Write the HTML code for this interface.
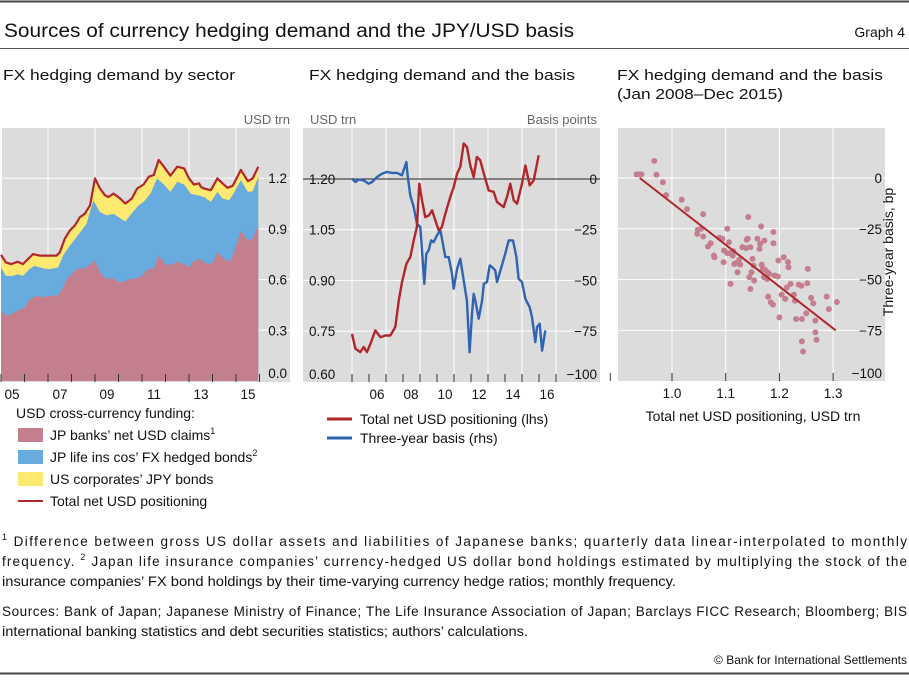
<!DOCTYPE html>
<html><head><meta charset="utf-8"><style>
body{margin:0;background:#fff;}
svg text{font-family:"Liberation Sans",sans-serif;}
</style></head><body>
<svg id="s" width="909" height="675" viewBox="0 0 909 675" xmlns="http://www.w3.org/2000/svg">
<line x1="0" y1="1.5" x2="909" y2="1.5" stroke="#444" stroke-width="2"/>
<text x="4" y="37" font-size="19" fill="#111" textLength="570" lengthAdjust="spacingAndGlyphs">Sources of currency hedging demand and the JPY/USD basis</text>
<text x="905" y="37" font-size="14" text-anchor="end" fill="#111">Graph 4</text>
<line x1="0" y1="48.5" x2="909" y2="48.5" stroke="#555" stroke-width="1"/>
<text x="3" y="80" font-size="15" fill="#111" textLength="232" lengthAdjust="spacingAndGlyphs">FX hedging demand by sector</text>
<text x="309" y="80" font-size="15" fill="#111" textLength="266" lengthAdjust="spacingAndGlyphs">FX hedging demand and the basis</text>
<text x="617" y="80" font-size="15" fill="#111" textLength="266" lengthAdjust="spacingAndGlyphs">FX hedging demand and the basis</text>
<text x="617" y="99" font-size="15" fill="#111" textLength="166" lengthAdjust="spacingAndGlyphs">(Jan 2008–Dec 2015)</text>
<text x="290" y="124" font-size="13" fill="#666" text-anchor="end">USD trn</text>
<text x="310" y="124" font-size="13" fill="#666">USD trn</text>
<text x="597" y="124" font-size="13" fill="#666" text-anchor="end">Basis points</text>
<g id="p1"></g>
<g id="p2"></g>
<g id="p3"></g>
<text x="893" y="252" font-size="14" fill="#111" text-anchor="middle" transform="rotate(-90 893 252)">Three-year basis, bp</text>
<text x="753" y="421" font-size="14" fill="#111" text-anchor="middle">Total net USD positioning, USD trn</text>
<g>
<text x="16" y="418" font-size="14" fill="#111">USD cross-currency funding:</text>
<rect x="18" y="428" width="25" height="14" fill="#c47f8e"/>
<text x="50" y="440" font-size="14" fill="#111">JP banks’ net USD claims<tspan font-size="9" dy="-6">1</tspan></text>
<rect x="18" y="450" width="25" height="14" fill="#67abdf"/>
<text x="50" y="462" font-size="14" fill="#111">JP life ins cos’ FX hedged bonds<tspan font-size="9" dy="-6">2</tspan></text>
<rect x="18" y="472" width="25" height="14" fill="#fde96f"/>
<text x="50" y="484" font-size="14" fill="#111">US corporates’ JPY bonds</text>
<line x1="18" y1="501" x2="43" y2="501" stroke="#b0262b" stroke-width="2"/>
<text x="50" y="506" font-size="14" fill="#111">Total net USD positioning</text>
</g>
<g>
<line x1="327" y1="419" x2="352" y2="419" stroke="#b0262b" stroke-width="3"/>
<text x="360" y="424" font-size="14" fill="#111">Total net USD positioning (lhs)</text>
<line x1="327" y1="438" x2="352" y2="438" stroke="#2f64b0" stroke-width="3"/>
<text x="360" y="443" font-size="14" fill="#111">Three-year basis (rhs)</text>
</g>
<g font-size="13.5" fill="#111">
<text x="2" y="546" textLength="905" lengthAdjust="spacing"><tspan font-size="9" dy="-6">1</tspan><tspan dy="6"> Difference between gross US dollar assets and liabilities of Japanese banks; quarterly data linear-interpolated to monthly</tspan></text>
<text x="2" y="566" textLength="905" lengthAdjust="spacing">frequency.  <tspan font-size="9" dy="-6">2</tspan><tspan dy="6"> Japan life insurance companies’ currency-hedged US dollar bond holdings estimated by multiplying the stock of the</tspan></text>
<text x="2" y="586" textLength="674" lengthAdjust="spacingAndGlyphs">insurance companies’ FX bond holdings by their time-varying currency hedge ratios; monthly frequency.</text>
<text x="2" y="616" textLength="905" lengthAdjust="spacing">Sources: Bank of Japan; Japanese Ministry of Finance; The Life Insurance Association of Japan; Barclays FICC Research; Bloomberg; BIS</text>
<text x="2" y="636" textLength="526" lengthAdjust="spacingAndGlyphs">international banking statistics and debt securities statistics; authors’ calculations.</text>
</g>
<text x="907" y="664" font-size="12" fill="#111" text-anchor="end">© Bank for International Settlements</text>
<line x1="0" y1="673.5" x2="909" y2="673.5" stroke="#444" stroke-width="2"/>
</svg>
<script>
// Panel 1 data
const p1BanksDates=[2005.00,2005.21,2005.43,2005.79,2006.00,2006.21,2006.50,2006.79,2007.07,2007.43,2007.57,2007.79,2008.07,2008.29,2008.57,2009.00,2009.21,2009.50,2009.71,2010.00,2010.21,2010.43,2010.64,2011.00,2011.21,2011.50,2011.71,2012.00,2012.21,2012.50,2012.79,2013.00,2013.21,2013.43,2013.57,2013.79,2014.00,2014.21,2014.43,2014.64,2014.79,2015.00,2015.21,2015.50,2015.71,2015.95];
const p1Banks=[0.414,0.388,0.394,0.423,0.433,0.483,0.503,0.497,0.503,0.507,0.533,0.602,0.642,0.666,0.666,0.712,0.642,0.602,0.612,0.586,0.586,0.602,0.602,0.622,0.658,0.666,0.742,0.692,0.686,0.706,0.692,0.672,0.712,0.722,0.712,0.692,0.698,0.761,0.732,0.712,0.712,0.801,0.891,0.831,0.845,0.920];
const p1LifeCumDates=[2005.00,2005.21,2005.50,2005.71,2005.93,2006.21,2006.43,2006.79,2007.07,2007.43,2007.64,2007.93,2008.21,2008.64,2008.93,2009.21,2009.50,2009.79,2010.00,2010.29,2010.64,2010.86,2011.07,2011.36,2011.64,2011.93,2012.21,2012.50,2012.79,2013.07,2013.36,2013.64,2013.93,2014.21,2014.43,2014.71,2014.93,2015.21,2015.50,2015.71,2015.95];
const p1LifeCum=[0.672,0.622,0.622,0.632,0.622,0.662,0.682,0.666,0.662,0.672,0.742,0.801,0.851,0.930,1.070,1.000,0.980,0.990,0.970,0.944,1.004,1.040,1.060,1.109,1.199,1.163,1.119,1.179,1.163,1.109,1.099,1.089,1.060,1.119,1.080,1.070,1.119,1.189,1.119,1.123,1.209];
const p1TotalDates=[2005.00,2005.21,2005.43,2005.71,2005.93,2006.36,2006.64,2007.07,2007.36,2007.50,2007.71,2007.93,2008.14,2008.36,2008.57,2008.79,2009.00,2009.21,2009.43,2009.57,2009.79,2010.07,2010.29,2010.57,2010.79,2011.07,2011.29,2011.50,2011.71,2011.93,2012.21,2012.50,2012.79,2013.00,2013.21,2013.43,2013.50,2013.64,2013.93,2014.21,2014.43,2014.64,2014.86,2015.21,2015.50,2015.71,2015.95];
const p1Total=[0.746,0.702,0.692,0.706,0.692,0.751,0.742,0.742,0.742,0.761,0.841,0.891,0.920,0.970,0.990,1.040,1.199,1.139,1.099,1.089,1.109,1.080,1.050,1.080,1.139,1.163,1.209,1.219,1.308,1.268,1.215,1.268,1.258,1.199,1.163,1.169,1.149,1.139,1.129,1.199,1.169,1.143,1.155,1.249,1.183,1.199,1.268];
const p1YTicks=["0.0","0.3","0.6","0.9","1.2"];
const p1YTickVals=[0,0.3,0.6,0.9,1.2];
const p1XLabels=["05","07","09","11","13","15"];
// Panel 2 data
const p2PosDates=[2005.00,2005.20,2005.49,2005.69,2005.88,2006.12,2006.37,2006.67,2006.96,2007.25,2007.55,2007.75,2007.94,2008.20,2008.43,2008.63,2008.82,2008.96,2009.12,2009.31,2009.51,2009.71,2009.90,2010.10,2010.29,2010.49,2010.78,2010.98,2011.18,2011.37,2011.57,2011.76,2011.96,2012.16,2012.35,2012.55,2012.75,2013.04,2013.33,2013.53,2013.92,2014.12,2014.31,2014.51,2014.71,2015.00,2015.20,2015.45,2015.69,2015.98];
const p2Pos=[0.742,0.698,0.688,0.703,0.688,0.717,0.752,0.732,0.737,0.737,0.762,0.841,0.895,0.949,0.969,1.018,1.058,1.186,1.137,1.087,1.092,1.107,1.078,1.048,1.058,1.097,1.147,1.176,1.216,1.236,1.305,1.295,1.240,1.206,1.265,1.255,1.216,1.166,1.162,1.132,1.117,1.147,1.186,1.137,1.127,1.186,1.240,1.181,1.196,1.270];
const p2BasisDates=[2005.00,2005.20,2005.39,2005.69,2005.98,2006.18,2006.47,2006.76,2007.06,2007.35,2007.65,2007.94,2008.20,2008.27,2008.43,2008.63,2008.82,2009.02,2009.12,2009.25,2009.37,2009.51,2009.65,2009.80,2010.00,2010.20,2010.35,2010.49,2010.69,2010.88,2010.98,2011.18,2011.37,2011.57,2011.76,2011.92,2012.06,2012.16,2012.25,2012.45,2012.65,2012.75,2012.94,2013.10,2013.24,2013.43,2013.53,2013.73,2014.02,2014.22,2014.47,2014.67,2014.80,2015.00,2015.20,2015.45,2015.59,2015.78,2015.88,2016.04,2016.18,2016.37];
const p2Basis=[0.2,-1.5,-0.3,-0.7,-2.3,-1.5,1.0,2.6,3.5,3.0,3.0,1.8,8.4,1.8,-8.1,-13.8,-22.0,-23.7,-35.2,-51.7,-36.8,-35.2,-30.3,-31.1,-27.8,-25.3,-31.9,-38.5,-38.5,-46.7,-54.1,-44.3,-39.3,-50.0,-59.9,-85.4,-66.5,-56.6,-59.9,-68.9,-59.9,-51.7,-50.8,-42.6,-43.4,-45.1,-50.8,-45.1,-36.8,-30.3,-30.3,-38.5,-49.2,-50.8,-59.1,-63.2,-68.1,-80.4,-73.0,-71.4,-84.6,-74.7];
const p2LeftTicks=["0.60","0.75","0.90","1.05","1.20"];
const p2LeftVals=[0.60,0.75,0.90,1.05,1.20];
const p2RightTicks=["−100","−75","−50","−25","0"];
const p2RightVals=[-100,-75,-50,-25,0];
const p2XLabels=["06","08","10","12","14","16"];
// Panel 3 data
const p3X=[0.967,0.934,0.939,0.943,0.971,0.983,0.989,1.018,1.028,1.058,1.048,1.047,1.054,1.058,1.067,1.072,1.078,1.079,1.096,1.088,1.094,1.103,1.106,1.097,1.103,1.108,1.114,1.109,1.113,1.116,1.119,1.122,1.125,1.127,1.131,1.138,1.139,1.142,1.141,1.146,1.144,1.146,1.148,1.150,1.152,1.153,1.159,1.163,1.164,1.166,1.167,1.169,1.171,1.172,1.173,1.177,1.178,1.179,1.181,1.184,1.188,1.189,1.191,1.189,1.197,1.198,1.204,1.208,1.211,1.216,1.217,1.214,1.221,1.227,1.229,1.231,1.236,1.241,1.242,1.242,1.244,1.250,1.253,1.252,1.259,1.263,1.267,1.267,1.269,1.288,1.292,1.307,1.200];
const p3Y=[8.4,1.8,1.8,1.8,1.6,-2.1,-8.4,-10.7,-15.3,-17.8,-25.5,-27.5,-25.0,-28.8,-33.7,-32.1,-38.2,-39.0,-41.4,-29.4,-29.9,-25.0,-31.6,-35.7,-37.0,-37.0,-36.0,-52.1,-38.2,-42.3,-41.9,-46.4,-40.3,-42.6,-34.0,-34.5,-30.4,-19.2,-29.9,-34.0,-48.8,-54.6,-46.4,-39.8,-43.1,-50.5,-29.9,-34.9,-32.4,-23.8,-42.6,-44.7,-48.8,-30.8,-45.2,-49.7,-46.4,-58.4,-47.2,-61.2,-62.3,-26.6,-48.0,-32.1,-48.5,-40.6,-57.4,-39.0,-59.5,-41.4,-43.9,-53.8,-52.1,-57.4,-60.4,-69.4,-52.5,-53.0,-69.4,-80.4,-85.4,-66.6,-44.7,-51.8,-59.0,-61.7,-70.2,-76.0,-79.6,-58.4,-64.5,-61.0,-68.6];
const p3FitX=[0.94,1.305];
const p3FitY=[0,-75];
const p3XTicks=["1.0","1.1","1.2","1.3"];
const p3XTickVals=[1.0,1.1,1.2,1.3];
const p3YTicks=["−100","−75","−50","−25","0"];
const p3YTickVals=[-100,-75,-50,-25,0];

const NS="http://www.w3.org/2000/svg";
function mk(parent,tag,attrs){const e=document.createElementNS(NS,tag);for(const k in attrs)e.setAttribute(k,attrs[k]);parent.appendChild(e);return e;}
function pts(xs,ys,fx,fy){return xs.map((x,i)=>fx(x).toFixed(1)+","+fy(ys[i]).toFixed(1)).join(" ");}

// ---- Panel 1
(function(){
const g=document.getElementById('p1');
const x=t=>1+(t-2005)*23.5, y=v=>381-v/0.3*50.7;
let e=mk(g,'rect',{x:2,y:128,width:288,height:254,fill:'#dcdcdc'});


p1YTickVals.forEach((v,i)=>{
 if(v>0){e=mk(g,'line',{x1:2,x2:290,y1:y(v),y2:y(v),stroke:'#fff','stroke-width':1});
 
 }
});
for(let yr=2007;yr<=2015;yr+=2){e=mk(g,'line',{x1:x(yr),x2:x(yr),y1:128,y2:382,stroke:'#fff','stroke-width':1});
 
 }
const area=(d,v,fill,name)=>{const a=mk(g,'polygon',{points:x(d[0])+","+y(0)+" "+pts(d,v,x,y)+" "+x(d[d.length-1])+","+y(0),fill:fill});
 
 };
area(p1TotalDates,p1Total,'#fde96f','area-us-corporates');
area(p1LifeCumDates,p1LifeCum,'#67abdf','area-life-ins');
area(p1BanksDates,p1Banks,'#c47f8e','area-banks');
e=mk(g,'polyline',{points:pts(p1TotalDates,p1Total,x,y),fill:'none',stroke:'#b0262b','stroke-width':2.2,'stroke-linejoin':'round'});


for(let yr=2005;yr<=2016;yr++){e=mk(g,'line',{x1:x(yr),x2:x(yr),y1:374,y2:382,stroke:'#333','stroke-width':1});
 
 }
p1YTickVals.forEach((v,i)=>{const t=mk(g,'text',{x:287,y:(v===0?y(v)-3:y(v)+5),'font-size':13.5,'text-anchor':'end',fill:'#111'});t.textContent=p1YTicks[i];
 
 });
p1XLabels.forEach((l,i)=>{const t=mk(g,'text',{x:x(2005+2*i)+12-(i===0?1:0),y:399,'font-size':13.5,'text-anchor':'middle',fill:'#111'});t.textContent=l;
 
 });
})();

// ---- Panel 2
(function(){
const g=document.getElementById('p2');
const x=t=>352+(t-2005)*17, yl=v=>179+(1.2-v)/0.15*50.7, yr=b=>179-b/25*50.7;
let e=mk(g,'rect',{x:303,y:128,width:297,height:254,fill:'#dcdcdc'});


p2LeftVals.forEach(v=>{if(v<1.2&&v>0.6){e=mk(g,'line',{x1:303,x2:600,y1:yl(v),y2:yl(v),stroke:'#fff'});
 
 }});
for(let yy=2005;yy<=2017;yy+=2){e=mk(g,'line',{x1:x(yy),x2:x(yy),y1:128,y2:382,stroke:'#fff'});
 
 }
e=mk(g,'line',{x1:303,x2:600,y1:yr(0),y2:yr(0),stroke:'#222','stroke-width':1});


e=mk(g,'polyline',{points:pts(p2BasisDates,p2Basis,x,yr),fill:'none',stroke:'#2f64b0','stroke-width':2.4,'stroke-linejoin':'round'});


e=mk(g,'polyline',{points:pts(p2PosDates,p2Pos,x,yl),fill:'none',stroke:'#b0262b','stroke-width':2.4,'stroke-linejoin':'round'});


for(let yy=2005;yy<=2017;yy++){e=mk(g,'line',{x1:x(yy),x2:x(yy),y1:374,y2:382,stroke:'#333'});
 
 }
p2LeftVals.forEach((v,i)=>{const t=mk(g,'text',{x:309,y:(i===0?yl(v)-3:yl(v)+5),'font-size':13.5,fill:'#111'});t.textContent=p2LeftTicks[i];
 
 });
p2RightVals.forEach((v,i)=>{const t=mk(g,'text',{x:597,y:(i===0?yr(v)-3:yr(v)+5),'font-size':13.5,'text-anchor':'end',fill:'#111'});t.textContent=p2RightTicks[i];
 
 });
p2XLabels.forEach((l,i)=>{const t=mk(g,'text',{x:x(2006+2*i)+8,y:399,'font-size':13.5,'text-anchor':'middle',fill:'#111'});t.textContent=l;
 
 });
})();

// ---- Panel 3
(function(){
const g=document.getElementById('p3');
const x=v=>672+(v-1.0)/0.1*53.7, y=b=>178-b/25*50.8;
let e=mk(g,'rect',{x:618,y:128,width:267,height:253,fill:'#dcdcdc'});


p3YTickVals.forEach(v=>{if(v>-100){e=mk(g,'line',{x1:618,x2:885,y1:y(v),y2:y(v),stroke:'#fff'});
 
 }});
p3XTickVals.forEach(v=>{e=mk(g,'line',{x1:x(v),x2:x(v),y1:128,y2:381,stroke:'#fff'});
 
 });
p3X.forEach((v,i)=>{const c=mk(g,'circle',{cx:x(v),cy:y(p3Y[i]),r:3,fill:'#c47f8e'});
 
 });
e=mk(g,'line',{x1:x(p3FitX[0]),y1:y(p3FitY[0]),x2:x(p3FitX[1]),y2:y(p3FitY[1]),stroke:'#b0262b','stroke-width':2});


[0.9,1.0,1.1,1.2,1.3].forEach(v=>{e=mk(g,'line',{x1:x(v)+(v===0.9?-8:0),x2:x(v)+(v===0.9?-8:0),y1:373,y2:381,stroke:'#333'});
 
 });
p3XTickVals.forEach((v,i)=>{const t=mk(g,'text',{x:x(v),y:398,'font-size':13.5,'text-anchor':'middle',fill:'#111'});t.textContent=p3XTicks[i];
 
 });
p3YTickVals.forEach((v,i)=>{const t=mk(g,'text',{x:882,y:(i===0?y(v)-3:y(v)+5),'font-size':13.5,'text-anchor':'end',fill:'#111'});t.textContent=p3YTicks[i];
 
 });
})();
</script>
</body></html>
